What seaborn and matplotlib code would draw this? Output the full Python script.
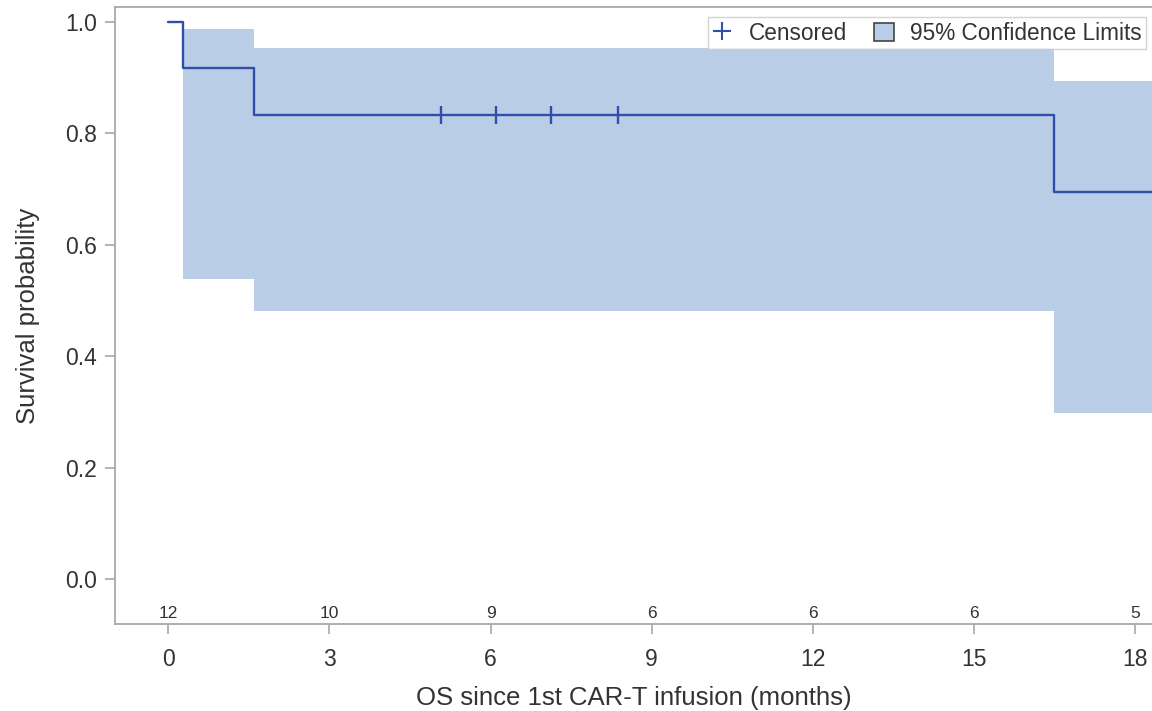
import matplotlib
matplotlib.use("Agg")
import matplotlib.pyplot as plt
from matplotlib.lines import Line2D
from matplotlib.patches import Patch
import seaborn as sns
import pandas as pd

# Kaplan-Meier estimate (step-post)
km_time = [0.0, 0.28, 1.6, 16.5, 18.6]
km_surv = [1.0, 0.9167, 0.8333, 0.6944, 0.6944]

# 95% confidence band (from first event onwards)
ci_time = [0.28, 1.6, 16.5, 18.6]
ci_lower = [0.5385, 0.481, 0.299, 0.299]
ci_upper = [0.9875, 0.9535, 0.894, 0.894]

# Censored observations
cens_time = [5.07, 6.11, 7.12, 8.37]
cens_surv = [0.8333, 0.8333, 0.8333, 0.8333]

# Number at risk
risk_time = [0, 3, 6, 9, 12, 15, 18]
risk_n = [12, 10, 9, 6, 6, 6, 5]

x_ticks = [0, 3, 6, 9, 12, 15, 18]
y_ticks = [0.0, 0.2, 0.4, 0.6, 0.8, 1.0]

LINE = "#2F4FAA"
FILL = "#B9CEE6"
GREY = "#A8A8A8"
TEXT = "#333333"

sns.set_theme(style="white")
plt.rcParams["font.family"] = ["Liberation Sans", "DejaVu Sans"]

fig = plt.figure(figsize=(11.52, 7.11), dpi=100)
ax = fig.add_axes([115 / 1152, 1 - 624.3 / 711, 1 - 115 / 1152, (624.3 - 7) / 711])

ax.fill_between(ci_time, ci_lower, ci_upper, step="post", color=FILL, lw=0, zorder=1)

km = pd.DataFrame({"time": km_time, "surv": km_surv})
sns.lineplot(data=km, x="time", y="surv", drawstyle="steps-post", estimator=None,
             color=LINE, lw=1.7, ax=ax, zorder=3)

cens = pd.DataFrame({"time": cens_time, "surv": cens_surv})
sns.scatterplot(data=cens, x="time", y="surv", marker="|", s=150, color=LINE,
                linewidth=1.7, ax=ax, zorder=4)

for t, n in zip(risk_time, risk_n):
    ax.text(t, -0.062, str(n), ha="center", va="center", fontsize=12.5, color=TEXT)

ax.set_xlim(-0.995, 18.32)
ax.set_ylim(-0.0807, 1.0264)
ax.set_xticks(x_ticks)
ax.set_yticks(y_ticks)
ax.set_xticklabels([str(v) for v in x_ticks])
ax.set_yticklabels([f"{v:.1f}" for v in y_ticks])
ax.tick_params(axis="both", which="both", direction="out", length=7, width=1.2,
               color=GREY, labelsize=16.5, labelcolor=TEXT,
               bottom=True, left=True, top=False, right=False)
ax.tick_params(axis="x", pad=10)
ax.tick_params(axis="y", pad=6)

for side in ["left", "bottom", "top"]:
    ax.spines[side].set_color(GREY)
    ax.spines[side].set_linewidth(1.3)
ax.spines["right"].set_visible(False)

ax.set_xlabel("OS since 1st CAR-T infusion (months)", fontsize=18.5, color=TEXT, labelpad=11)
ax.set_ylabel("Survival probability", fontsize=18.5, color=TEXT, labelpad=18)

handles = [
    Line2D([], [], marker="+", color=LINE, linestyle="none", markersize=13, markeredgewidth=1.5),
    Patch(facecolor=FILL, edgecolor="#444444", linewidth=1.2),
]
leg = ax.legend(handles, ["Censored", "95% Confidence Limits"], loc="upper right",
                bbox_to_anchor=(0.9945, 0.9835), ncol=2, frameon=True, fancybox=False,
                fontsize=16.3, handlelength=0.9, handleheight=0.9, handletextpad=0.7,
                columnspacing=1.2, borderpad=0.2, borderaxespad=0.0)
leg.get_frame().set_edgecolor("#C8C8C8")
leg.get_frame().set_linewidth(1.0)
for txt in leg.get_texts():
    txt.set_color(TEXT)

fig.savefig("out.png", dpi=100)
